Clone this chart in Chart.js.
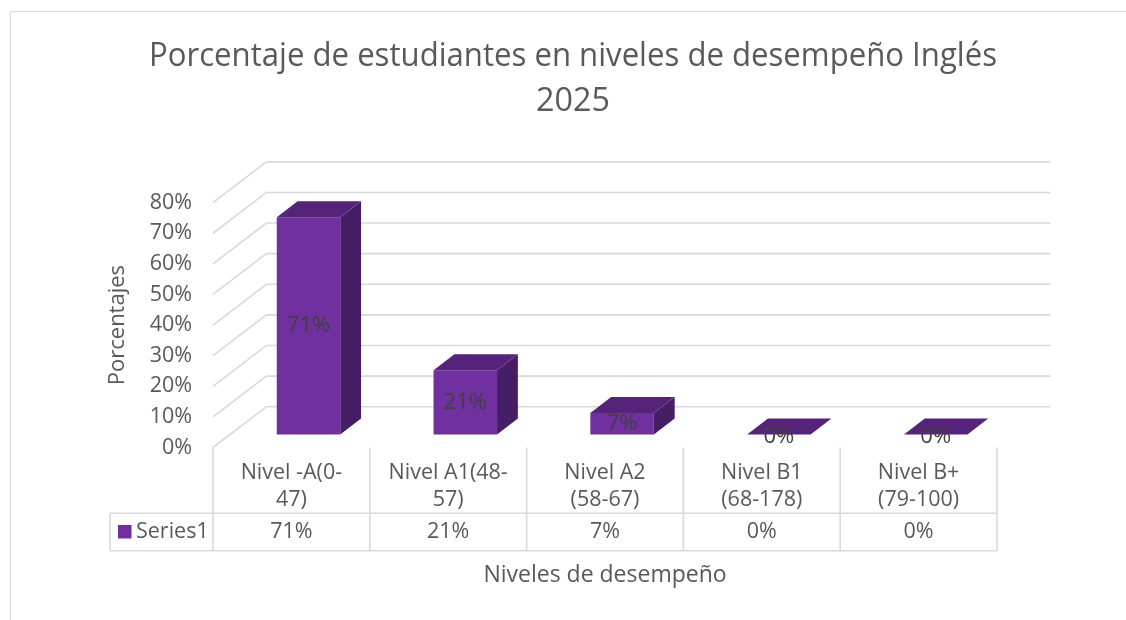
<!DOCTYPE html>
<html>
<head>
<meta charset="utf-8">
<script src="https://cdn.jsdelivr.net/npm/chart.js@4.4.1/dist/chart.umd.min.js"></script>
<style>
  html, body { margin: 0; padding: 0; background: #fff; }
  canvas { display: block; }
</style>
</head>
<body>
<canvas id="chart" width="1126" height="620"></canvas>
<script>
  // data
  var niveles = [
    ['Nivel -A(0-', '47)'],
    ['Nivel A1(48-', '57)'],
    ['Nivel A2', '(58-67)'],
    ['Nivel B1', '(68-178)'],
    ['Nivel B+', '(79-100)']
  ];
  var series1 = [0.71, 0.21, 0.07, 0, 0];
  var yTicks = [0, 0.1, 0.2, 0.3, 0.4, 0.5, 0.6, 0.7, 0.8];
  var seriesName = 'Series1';

  var FONT = "'Open Sans', 'Noto Sans', sans-serif";
  var TEXT = '#595959';
  var GRID = '#d9d9d9';
  var FRONT = '#7030A0', TOP = '#55247A', SIDE = '#461E65';

  // depth of the 3d floor and of each box
  var DX = 53.4, DY = 40.8;
  var F1 = 0.32, F2 = 0.71;
  var BAR_W = 63.5;

  function pct(v) { return Math.round(v * 100) + '%'; }

  function poly(ctx, pts, fill) {
    ctx.beginPath();
    ctx.moveTo(pts[0][0], pts[0][1]);
    for (var i = 1; i < pts.length; i++) ctx.lineTo(pts[i][0], pts[i][1]);
    ctx.closePath();
    ctx.fillStyle = fill;
    ctx.fill();
  }

  var threeD = {
    id: 'threeD',
    beforeDraw: function(chart) {
      var ctx = chart.ctx;
      ctx.save();
      ctx.strokeStyle = GRID;
      ctx.lineWidth = 1;
      ctx.beginPath();
      ctx.moveTo(10.5, 620);
      ctx.lineTo(10.5, 11.5);
      ctx.lineTo(1126, 11.5);
      ctx.stroke();
      ctx.restore();
    },
    beforeDatasetsDraw: function(chart) {
      var ctx = chart.ctx, a = chart.chartArea, y = chart.scales.y;
      ctx.save();
      ctx.strokeStyle = GRID;
      ctx.lineWidth = 1.6;
      yTicks.forEach(function(t) {
        var py = y.getPixelForValue(t);
        ctx.beginPath();
        ctx.moveTo(a.left, py);
        ctx.lineTo(a.left + DX, py - DY);
        ctx.lineTo(a.right + DX, py - DY);
        ctx.stroke();
      });
      ctx.restore();
    },
    afterDatasetsDraw: function(chart) {
      var ctx = chart.ctx, x = chart.scales.x, y = chart.scales.y;
      var y0 = y.getPixelForValue(0);
      var ddx = (F2 - F1) * DX, ddy = (F2 - F1) * DY;
      ctx.save();
      series1.forEach(function(v, i) {
        var cx = x.getPixelForValue(i) + F1 * DX;
        var xl = cx - BAR_W / 2, xr = cx + BAR_W / 2;
        var yb = y0 - F1 * DY;
        var yt = y.getPixelForValue(v) - F1 * DY;
        if (yb - yt > 0.5) {
          poly(ctx, [[xr, yt], [xr + ddx, yt - ddy], [xr + ddx, yb - ddy], [xr, yb]], SIDE);
          poly(ctx, [[xl, yt], [xr, yt], [xr, yb], [xl, yb]], FRONT);
        }
        poly(ctx, [[xl, yt], [xr, yt], [xr + ddx, yt - ddy], [xl + ddx, yt - ddy]], TOP);
      });
      ctx.fillStyle = '#404040';
      ctx.font = '22px ' + FONT;
      ctx.textAlign = 'center';
      ctx.textBaseline = 'middle';
      series1.forEach(function(v, i) {
        var cx = x.getPixelForValue(i) + F1 * DX;
        var yb = y0 - F1 * DY;
        var yt = y.getPixelForValue(v) - F1 * DY;
        var ly = v > 0 ? (yt + yb) / 2 : yb + 2;
        ctx.fillText(pct(v), cx, ly);
      });
      ctx.restore();
    },
    afterDraw: function(chart) {
      var ctx = chart.ctx, a = chart.chartArea, x = chart.scales.x;
      var cw = (a.right - a.left) / niveles.length;
      var top = a.bottom, mid = 513.3, bot = 550.7, legL = 110;
      ctx.save();
      ctx.strokeStyle = GRID;
      ctx.lineWidth = 1.6;
      ctx.beginPath();
      for (var i = 0; i <= niveles.length; i++) {
        var lx = a.left + i * cw;
        ctx.moveTo(lx, top);
        ctx.lineTo(lx, bot);
      }
      ctx.moveTo(legL, mid); ctx.lineTo(a.right, mid);
      ctx.moveTo(legL, bot); ctx.lineTo(a.right, bot);
      ctx.moveTo(legL, mid); ctx.lineTo(legL, bot);
      ctx.stroke();

      ctx.fillStyle = TEXT;
      ctx.font = '21.5px ' + FONT;
      ctx.textAlign = 'center';
      ctx.textBaseline = 'middle';
      niveles.forEach(function(lines, i) {
        var cx = x.getPixelForValue(i);
        ctx.fillText(lines[0], cx, 473);
        ctx.fillText(lines[1], cx, 500);
        ctx.fillText(pct(series1[i]), cx, 532);
      });
      ctx.fillStyle = FRONT;
      ctx.fillRect(118, 525, 13.5, 13.5);
      ctx.fillStyle = TEXT;
      ctx.textAlign = 'left';
      ctx.fillText(seriesName, 136, 532);

      ctx.font = '23px ' + FONT;
      ctx.textAlign = 'center';
      ctx.fillText('Niveles de desempeño', (a.left + a.right) / 2, 575);
      ctx.restore();
    }
  };

  new Chart(document.getElementById('chart'), {
    type: 'bar',
    data: {
      labels: niveles,
      datasets: [{
        label: seriesName,
        data: series1,
        backgroundColor: 'rgba(0,0,0,0)'
      }]
    },
    options: {
      responsive: false,
      animation: false,
      devicePixelRatio: 1,
      // left padding keeps the title centred like the original chart box
      layout: { padding: { left: 149, right: 129, top: 0, bottom: 172.5 } },
      plugins: {
        legend: { display: false },
        tooltip: { enabled: false },
        title: {
          display: true,
          text: ['Porcentaje de estudiantes en niveles de desempeño Inglés', '2025'],
          color: TEXT,
          font: { family: FONT, size: 32.3, weight: 'normal', lineHeight: 1.38 },
          padding: { top: 35, bottom: 78.5 }
        }
      },
      scales: {
        x: { display: false, offset: true },
        y: {
          min: 0,
          max: 0.8,
          grid: { display: false },
          border: { display: false },
          ticks: {
            stepSize: 0.1,
            padding: 13,
            color: TEXT,
            font: { family: FONT, size: 21.5 },
            callback: function(v) { return pct(v); }
          },
          title: {
            display: true,
            text: 'Porcentajes',
            color: TEXT,
            font: { family: FONT, size: 22 },
            padding: { top: -44, bottom: 0 }
          },
          afterFit: function(s) { s.width = 64; }
        }
      }
    },
    plugins: [threeD]
  });
</script>
</body>
</html>
